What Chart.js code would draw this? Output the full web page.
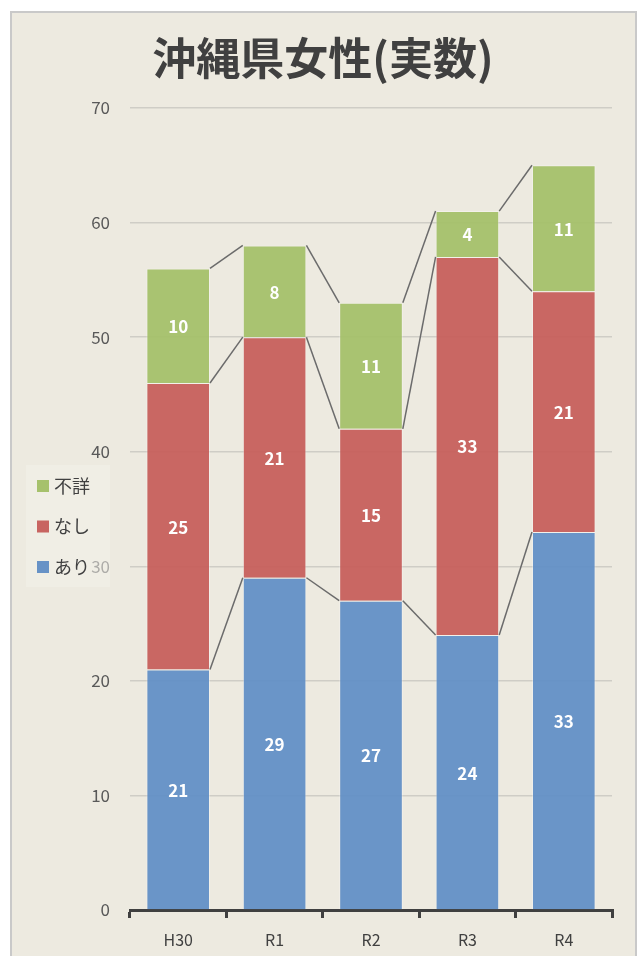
<!DOCTYPE html>
<html>
<head>
<meta charset="utf-8">
<script src="https://cdn.jsdelivr.net/npm/chart.js@4/dist/chart.umd.min.js"></script>
<style>
  html, body { margin: 0; padding: 0; background: #fff; }
  .panel {
    position: absolute; left: 10px; top: 11px; width: 627px; height: 960px;
    background: #edeae0; border: 2px solid #c9c9c9; box-sizing: border-box;
  }
  .wrap { position: absolute; left: 0; top: 0; width: 641px; height: 956px; }
</style>
</head>
<body>
<div class="panel"></div>
<div class="wrap"><canvas id="myChart" width="641" height="956"></canvas></div>
<script>
{
  'use strict';

  const categories = ['H30', 'R1', 'R2', 'R3', 'R4'];
  const ari = [21, 29, 27, 24, 33];
  const nashi = [25, 21, 15, 33, 21];
  const fusho = [10, 8, 11, 4, 11];
  const yTicks = [0, 10, 20, 30, 40, 50, 60, 70];
  const title = '沖縄県女性(実数)';
  const font = '"Noto Sans CJK JP", "Noto Sans", sans-serif';

  /* lines joining the stack tops of neighbouring bars */
  const seriesLines = {
    id: 'seriesLines',
    afterDatasetsDraw(chart) {
      const ctx = chart.ctx;
      ctx.save();
      ctx.strokeStyle = '#6b6b6b';
      ctx.lineWidth = 1.5;
      chart.data.datasets.forEach(function (ds, d) {
        const bars = chart.getDatasetMeta(d).data;
        for (let i = 0; i < bars.length - 1; i++) {
          const a = bars[i], b = bars[i + 1];
          ctx.beginPath();
          ctx.moveTo(a.x + a.width / 2, a.y);
          ctx.lineTo(b.x - b.width / 2, b.y);
          ctx.stroke();
        }
      });
      ctx.restore();
    }
  };

  /* values in the middle of each segment */
  const valueLabels = {
    id: 'valueLabels',
    afterDatasetsDraw(chart) {
      const ctx = chart.ctx;
      ctx.save();
      ctx.fillStyle = '#ffffff';
      ctx.font = 'bold 17px ' + font;
      ctx.textAlign = 'center';
      ctx.textBaseline = 'middle';
      chart.data.datasets.forEach(function (ds, d) {
        chart.getDatasetMeta(d).data.forEach(function (bar, i) {
          ctx.fillText(String(ds.data[i]), bar.x, (bar.y + bar.base) / 2 + 1);
        });
      });
      ctx.restore();
    }
  };

  /* title and the legend box on the left */
  const decorations = {
    id: 'decorations',
    afterDraw(chart) {
      const ctx = chart.ctx;
      ctx.save();
      ctx.fillStyle = '#404040';
      ctx.font = 'bold 44px ' + font;
      ctx.textAlign = 'center';
      ctx.textBaseline = 'middle';
      ctx.fillText(title, 323, 58);

      ctx.fillStyle = 'rgba(242,240,234,0.55)';
      ctx.fillRect(26, 465, 84, 122);
      const items = chart.data.datasets.slice().reverse();
      ctx.font = '18px ' + font;
      ctx.textAlign = 'left';
      items.forEach(function (ds, k) {
        const y = 486 + k * 40.5;
        ctx.fillStyle = ds.legendColor;
        ctx.fillRect(37, y - 6, 12, 12);
        ctx.fillStyle = '#404040';
        ctx.fillText(ds.label, 54, y);
      });
      ctx.restore();
    }
  };

  function initChart() {
    const ctx = document.getElementById('myChart').getContext('2d');

    // eslint-disable-next-line no-undef
    new Chart(ctx, {
      type: 'bar',
      data: {
        labels: categories,
        datasets: [{
            label: 'あり',
            backgroundColor: 'rgba(96,142,198,0.93)',
            borderColor: 'rgba(255,255,255,0.35)',
            legendColor: '#6792c6',
            data: ari,
          },
          {
            label: 'なし',
            backgroundColor: 'rgba(198,92,89,0.93)',
            borderColor: 'rgba(255,255,255,0.35)',
            legendColor: '#c86461',
            data: nashi,
          },
          {
            label: '不詳',
            backgroundColor: 'rgba(164,192,104,0.93)',
            borderColor: 'rgba(255,255,255,0.35)',
            legendColor: '#a6c16c',
            data: fusho,
          }
        ]
      },
      options: {
        responsive: false,
        animation: false,
        categoryPercentage: 0.66,
        barPercentage: 1,
        datasets: { bar: { borderWidth: 1 } },
        layout: { padding: { left: 0, right: 29, top: 108, bottom: 0 } },
        plugins: {
          legend: { display: false },
          title: { display: false },
          tooltip: { enabled: false }
        },
        scales: {
          x: {
            stacked: true,
            afterFit: function (s) { s.height = 46; },
            border: { display: true, color: '#404040', width: 3 },
            grid: {
              offset: true, drawOnChartArea: false, drawTicks: true,
              tickLength: 8, color: '#404040', lineWidth: 3
            },
            ticks: { color: '#404040', font: { family: font, size: 16 }, padding: 12 }
          },
          y: {
            stacked: true,
            min: 0, max: 70,
            afterFit: function (s) { s.width = 130; },
            afterBuildTicks: function (s) { s.ticks = yTicks.map(function (v) { return { value: v }; }); },
            border: { display: false },
            grid: { color: '#cfcdc6', lineWidth: 1.5, drawTicks: false },
            ticks: { color: '#595959', font: { family: font, size: 17 }, padding: 20 }
          }
        }
      },
      plugins: [seriesLines, valueLabels, decorations]
    });
  }

  initChart();
}
</script>
</body>
</html>
